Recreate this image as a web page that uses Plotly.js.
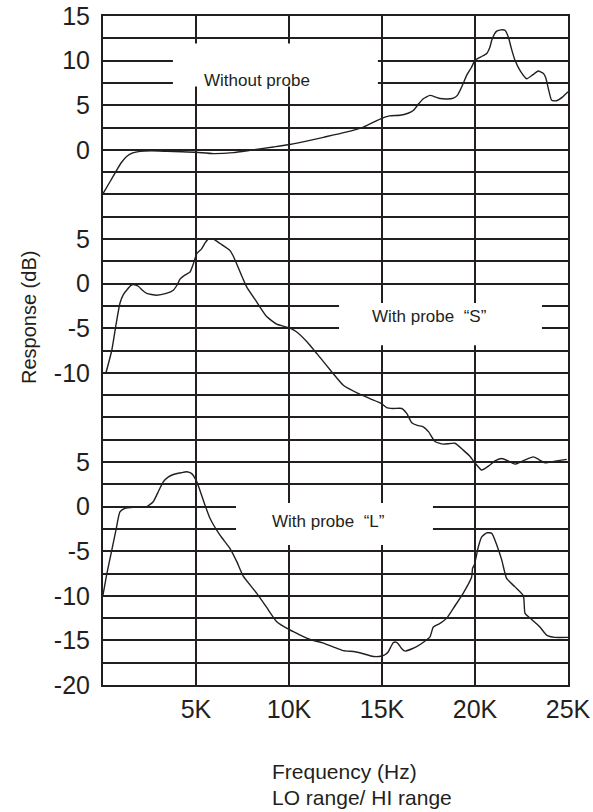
<!DOCTYPE html>
<html>
<head>
<meta charset="utf-8">
<script src="https://cdn.plot.ly/plotly-3.0.1.min.js"></script>
<style>
html,body{margin:0;padding:0;background:#fff;}
#chart{width:593px;height:812px;}
</style>
</head>
<body>
<div id="chart"></div>
<script>
// Frequency in kHz, response in dB (each curve on its own section of the chart)
const freqTop = [0, 0.4, 0.73, 1.0, 1.27, 1.6, 1.99, 2.6, 3.42, 4.2, 5.0, 5.93, 7.0, 7.9, 9.16, 10.05, 11.0, 11.85, 13.0, 14.0, 14.9, 15.4, 15.97, 16.4, 16.68, 16.95, 17.22, 17.58, 17.9, 18.12, 18.5, 18.84, 19.05, 19.2, 19.4, 19.55, 19.8, 20.0, 20.3, 20.63, 20.8, 20.9, 21.05, 21.17, 21.4, 21.61, 21.8, 21.95, 22.15, 22.45, 22.78, 23.1, 23.4, 23.65, 23.8, 23.95, 24.12, 24.39, 24.7, 25.0];
const respTop = [-4.92, -3.5, -2.3, -1.4, -0.75, -0.35, -0.17, -0.12, -0.17, -0.22, -0.28, -0.43, -0.32, -0.06, 0.32, 0.6, 1.0, 1.4, 1.95, 2.55, 3.45, 3.8, 3.87, 4.1, 4.4, 5.1, 5.73, 6.1, 5.9, 5.75, 5.7, 5.8, 6.1, 6.67, 7.6, 8.35, 9.2, 10.03, 10.4, 10.8, 11.5, 12.27, 13.0, 13.3, 13.45, 13.4, 12.6, 11.4, 10.03, 8.8, 7.97, 8.4, 8.83, 8.6, 8.1, 6.8, 5.55, 5.5, 5.9, 6.5];

const freqS = [0.16, 0.47, 0.7, 0.91, 1.1, 1.27, 1.5, 1.63, 1.9, 2.15, 2.35, 2.88, 3.4, 3.78, 4.0, 4.14, 4.4, 4.68, 4.86, 5.04, 5.3, 5.5, 5.66, 5.93, 6.29, 6.83, 7.0, 7.19, 7.45, 7.73, 8.26, 8.8, 9.34, 10.05, 10.4, 11.0, 11.5, 12.38, 12.92, 13.8, 14.35, 14.98, 15.25, 15.6, 16.06, 16.33, 16.6, 16.9, 17.22, 17.5, 17.85, 18.3, 18.92, 19.37, 19.7, 20.0, 20.36, 20.72, 21.1, 21.44, 21.8, 22.15, 22.65, 23.13, 23.45, 23.76, 24.3, 24.93];
const respS = [-10, -7.5, -4.6, -2.2, -1.2, -0.74, -0.2, -0.1, -0.3, -0.8, -1.1, -1.3, -1.1, -0.74, -0.1, 0.5, 0.95, 1.3, 2.24, 3.36, 3.9, 4.6, 5.0, 5.0, 4.5, 3.7, 3.1, 2.2, 0.9, -0.4, -2.05, -3.7, -4.55, -5.0, -5.4, -6.6, -7.85, -10.1, -11.4, -12.4, -12.9, -13.45, -13.9, -14.0, -14.0, -14.55, -15.6, -15.9, -16.05, -16.6, -17.7, -18.0, -17.9, -18.67, -19.3, -20.1, -20.9, -20.46, -19.85, -19.6, -19.9, -20.24, -19.8, -19.43, -19.75, -20.1, -19.9, -19.7];

const freqL = [0, 0.2, 0.47, 0.7, 0.91, 1.18, 1.7, 2.35, 2.7, 3.0, 3.24, 3.5, 3.78, 4.2, 4.5, 4.77, 5.04, 5.2, 5.39, 5.75, 6.29, 6.83, 7.2, 7.54, 8.26, 8.8, 9.34, 10.02, 10.6, 11.13, 11.85, 12.4, 12.92, 13.55, 14.0, 14.53, 14.98, 15.2, 15.34, 15.6, 15.75, 15.88, 16.05, 16.24, 16.86, 17.3, 17.58, 17.76, 18.12, 18.48, 18.9, 19.37, 19.82, 19.87, 19.96, 20.18, 20.36, 20.63, 20.9, 21.17, 21.44, 21.7, 22.15, 22.6, 22.69, 22.96, 23.49, 23.85, 24.3, 25.0];
const respL = [-9.9, -7.6, -4.9, -2.6, -0.6, -0.2, -0.08, 0, 0.54, 1.8, 2.78, 3.3, 3.6, 3.8, 3.9, 3.7, 2.8, 1.9, 0.73, -1.3, -3.2, -4.7, -6.2, -7.8, -9.7, -11.3, -12.9, -13.8, -14.4, -14.9, -15.3, -15.75, -16.15, -16.27, -16.5, -16.8, -16.75, -16.55, -16.27, -15.26, -15.2, -15.4, -15.9, -16.2, -15.7, -15.1, -14.6, -13.5, -13.1, -12.5, -11.2, -9.7, -7.9, -6.9, -6.55, -4.5, -3.4, -2.94, -3.0, -4.3, -6.0, -8.05, -9.0, -10.0, -11.97, -12.5, -13.5, -14.4, -14.66, -14.66];

const xTickVals = [5, 10, 15, 20, 25];
const xTickText = ['5K', '10K', '15K', '20K', '25K'];
const topLabels = [15, 10, 5, 0];
const midLabels = [5, 0, -5, -10];
const botLabels = [5, 0, -5, -10, -15, -20];
const curveNames = ['Without probe', 'With probe\u00a0\u00a0\u201cS\u201d', 'With probe\u00a0\u00a0\u201cL\u201d'];

// section offsets on the shared vertical scale
const OFF_TOP = 60, OFF_MID = 45, OFF_BOT = 20;

const ink = '#231f20';
function shift(arr, off) { return arr.map(v => v + off); }

const lineStyle = {color: ink, width: 1.4, shape: 'spline', smoothing: 0.5};
const traces = [
  {x: freqTop, y: shift(respTop, OFF_TOP), mode: 'lines', line: lineStyle, hoverinfo: 'skip'},
  {x: freqS, y: shift(respS, OFF_MID), mode: 'lines', line: lineStyle, hoverinfo: 'skip'},
  {x: freqL, y: shift(respL, OFF_BOT), mode: 'lines', line: lineStyle, hoverinfo: 'skip'}
];

// horizontal grid every 2.5 dB, labels only where the original shows them
const labelMap = {};
topLabels.forEach(v => labelMap[(v + OFF_TOP).toFixed(1)] = String(v));
midLabels.forEach(v => labelMap[(v + OFF_MID).toFixed(1)] = String(v));
botLabels.forEach(v => labelMap[(v + OFF_BOT).toFixed(1)] = String(v));
const yTickVals = [], yTickText = [];
for (let i = 0; i <= 30; i++) {
  const u = i * 2.5;
  yTickVals.push(u);
  yTickText.push(labelMap[u.toFixed(1)] || '');
}

const sans = '"Liberation Sans", Arial, Helvetica, sans-serif';

const whiteBox = (x0, x1, y0, y1) => ({type: 'rect', xref: 'x', yref: 'y', x0, x1, y0, y1,
  fillcolor: '#ffffff', line: {width: 0}, layer: 'above'});

const layout = {
  width: 593, height: 812,
  margin: {l: 103, r: 25, t: 16, b: 127, pad: 0},
  paper_bgcolor: '#ffffff', plot_bgcolor: '#ffffff',
  showlegend: false,
  xaxis: {
    range: [0, 25], tickmode: 'array', tickvals: xTickVals, ticktext: xTickText,
    showgrid: true, gridcolor: ink, gridwidth: 2, zeroline: false,
    showline: true, mirror: true, linecolor: ink, linewidth: 2,
    ticks: '', ticklabelstandoff: 1,
    tickfont: {family: sans, size: 25, color: ink}
  },
  yaxis: {
    range: [0, 75], tickmode: 'array', tickvals: yTickVals, ticktext: yTickText,
    showgrid: true, gridcolor: ink, gridwidth: 2, zeroline: false,
    showline: true, mirror: true, linecolor: ink, linewidth: 2,
    ticks: '', ticklabelstandoff: 6,
    tickfont: {family: sans, size: 25, color: ink}
  },
  shapes: [
    whiteBox(3.76, 14.78, 67.1, 71.93),
    whiteBox(12.69, 23.6, 38.1, 42.83),
    whiteBox(7.15, 17.74, 15.69, 20.39)
  ],
  annotations: [
    {x: 8.28, y: 67.75, xref: 'x', yref: 'y', text: curveNames[0], showarrow: false,
     font: {family: sans, size: 17, color: ink}, xanchor: 'center', yanchor: 'middle'},
    {x: 17.55, y: 41.34, xref: 'x', yref: 'y', text: curveNames[1], showarrow: false,
     font: {family: sans, size: 17, color: ink}, xanchor: 'center', yanchor: 'middle'},
    {x: 12.14, y: 18.38, xref: 'x', yref: 'y', text: curveNames[2], showarrow: false,
     font: {family: sans, size: 17, color: ink}, xanchor: 'center', yanchor: 'middle'},
    {x: -0.1591, y: 0.5486, xref: 'paper', yref: 'paper', text: 'Response (dB)', showarrow: false, textangle: -90,
     font: {family: sans, size: 20, color: ink}, xanchor: 'center', yanchor: 'middle'},
    {x: 0.3613, y: -0.1286, xref: 'paper', yref: 'paper', text: 'Frequency (Hz)', showarrow: false,
     font: {family: sans, size: 21, color: ink}, xanchor: 'left', yanchor: 'middle', borderpad: 0},
    {x: 0.3613, y: -0.1689, xref: 'paper', yref: 'paper', text: 'LO range/ HI range', showarrow: false,
     font: {family: sans, size: 21, color: ink}, xanchor: 'left', yanchor: 'middle', borderpad: 0}
  ]
};

Plotly.newPlot('chart', traces, layout, {displayModeBar: false, staticPlot: true});
</script>
</body>
</html>
